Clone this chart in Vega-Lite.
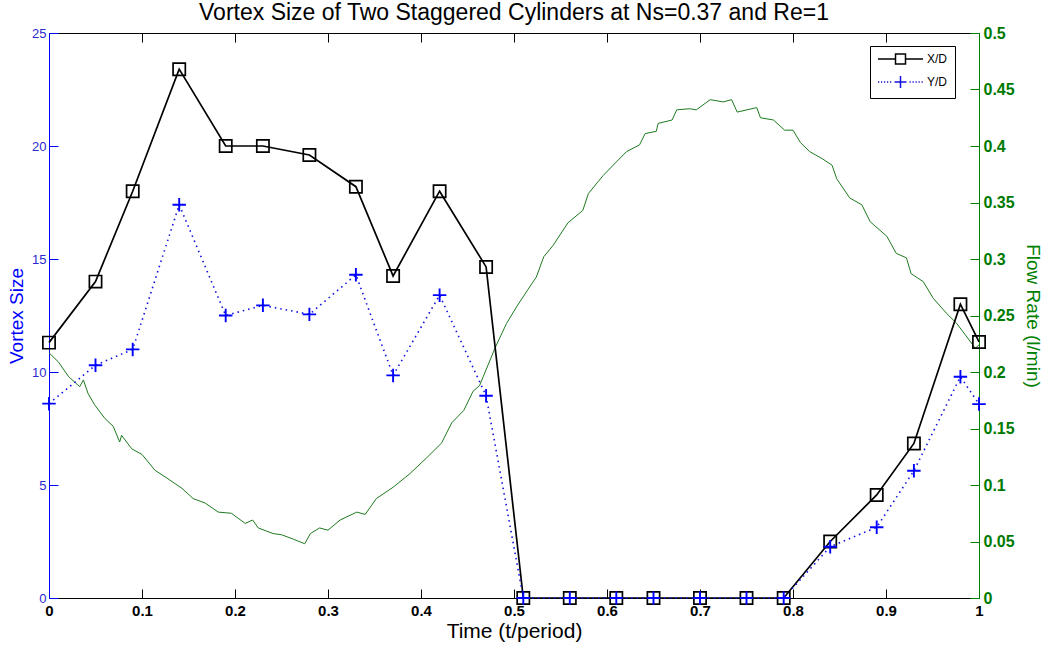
{
  "$schema": "https://vega.github.io/schema/vega-lite/v6.json",
  "width": 930,
  "height": 565,
  "autosize": "none",
  "padding": {"left": 49, "top": 33, "right": 71, "bottom": 52},
  "config": {"view": {"stroke": null}, "font": "Liberation Sans", "axis": {"grid": false}},
  "title": {"text": "Vortex Size of Two Staggered Cylinders at Ns=0.37 and Re=1", "fontSize": 23, "fontWeight": "normal", "color": "black", "offset": 0, "anchor": "middle"},
  "datasets": {
    "vortex": [
      {"t": 0, "series": "X/D", "value": 11.3}, {"t": 0.05, "series": "X/D", "value": 14.0}, {"t": 0.09, "series": "X/D", "value": 18.0}, {"t": 0.14, "series": "X/D", "value": 23.4}, {"t": 0.19, "series": "X/D", "value": 20.0}, {"t": 0.23, "series": "X/D", "value": 20.0}, {"t": 0.28, "series": "X/D", "value": 19.6}, {"t": 0.33, "series": "X/D", "value": 18.2}, {"t": 0.37, "series": "X/D", "value": 14.25}, {"t": 0.42, "series": "X/D", "value": 18.0}, {"t": 0.47, "series": "X/D", "value": 14.65}, {"t": 0.51, "series": "X/D", "value": 0}, {"t": 0.56, "series": "X/D", "value": 0}, {"t": 0.61, "series": "X/D", "value": 0}, {"t": 0.65, "series": "X/D", "value": 0}, {"t": 0.70, "series": "X/D", "value": 0}, {"t": 0.75, "series": "X/D", "value": 0}, {"t": 0.79, "series": "X/D", "value": 0}, {"t": 0.84, "series": "X/D", "value": 2.5}, {"t": 0.89, "series": "X/D", "value": 4.56}, {"t": 0.93, "series": "X/D", "value": 6.84}, {"t": 0.98, "series": "X/D", "value": 13.0}, {"t": 1.0, "series": "X/D", "value": 11.33},
      {"t": 0, "series": "Y/D", "value": 8.6}, {"t": 0.05, "series": "Y/D", "value": 10.3}, {"t": 0.09, "series": "Y/D", "value": 11.0}, {"t": 0.14, "series": "Y/D", "value": 17.4}, {"t": 0.19, "series": "Y/D", "value": 12.5}, {"t": 0.23, "series": "Y/D", "value": 12.95}, {"t": 0.28, "series": "Y/D", "value": 12.55}, {"t": 0.33, "series": "Y/D", "value": 14.3}, {"t": 0.37, "series": "Y/D", "value": 9.85}, {"t": 0.42, "series": "Y/D", "value": 13.4}, {"t": 0.47, "series": "Y/D", "value": 8.95}, {"t": 0.51, "series": "Y/D", "value": 0}, {"t": 0.56, "series": "Y/D", "value": 0}, {"t": 0.61, "series": "Y/D", "value": 0}, {"t": 0.65, "series": "Y/D", "value": 0}, {"t": 0.70, "series": "Y/D", "value": 0}, {"t": 0.75, "series": "Y/D", "value": 0}, {"t": 0.79, "series": "Y/D", "value": 0}, {"t": 0.84, "series": "Y/D", "value": 2.27}, {"t": 0.89, "series": "Y/D", "value": 3.13}, {"t": 0.93, "series": "Y/D", "value": 5.63}, {"t": 0.98, "series": "Y/D", "value": 9.79}, {"t": 1.0, "series": "Y/D", "value": 8.58}
    ],
    "flow": [
      {"t": 0.000, "q": 0.217}, {"t": 0.010, "q": 0.209}, {"t": 0.021, "q": 0.196}, {"t": 0.033, "q": 0.187}, {"t": 0.037, "q": 0.193}, {"t": 0.042, "q": 0.181}, {"t": 0.049, "q": 0.171}, {"t": 0.060, "q": 0.159}, {"t": 0.069, "q": 0.152}, {"t": 0.076, "q": 0.138}, {"t": 0.078, "q": 0.144}, {"t": 0.089, "q": 0.132}, {"t": 0.100, "q": 0.127}, {"t": 0.114, "q": 0.113}, {"t": 0.127, "q": 0.106}, {"t": 0.143, "q": 0.097}, {"t": 0.155, "q": 0.088}, {"t": 0.168, "q": 0.084}, {"t": 0.182, "q": 0.076}, {"t": 0.196, "q": 0.075}, {"t": 0.211, "q": 0.066}, {"t": 0.219, "q": 0.069}, {"t": 0.225, "q": 0.062}, {"t": 0.241, "q": 0.057}, {"t": 0.250, "q": 0.056}, {"t": 0.263, "q": 0.052}, {"t": 0.275, "q": 0.048}, {"t": 0.281, "q": 0.057}, {"t": 0.291, "q": 0.062}, {"t": 0.300, "q": 0.060}, {"t": 0.313, "q": 0.069}, {"t": 0.331, "q": 0.076}, {"t": 0.340, "q": 0.074}, {"t": 0.352, "q": 0.088}, {"t": 0.370, "q": 0.098}, {"t": 0.388, "q": 0.110}, {"t": 0.406, "q": 0.124}, {"t": 0.422, "q": 0.137}, {"t": 0.433, "q": 0.155}, {"t": 0.446, "q": 0.166}, {"t": 0.456, "q": 0.183}, {"t": 0.463, "q": 0.188}, {"t": 0.467, "q": 0.196}, {"t": 0.480, "q": 0.222}, {"t": 0.492, "q": 0.243}, {"t": 0.503, "q": 0.258}, {"t": 0.515, "q": 0.273}, {"t": 0.524, "q": 0.284}, {"t": 0.532, "q": 0.302}, {"t": 0.542, "q": 0.312}, {"t": 0.558, "q": 0.332}, {"t": 0.574, "q": 0.343}, {"t": 0.580, "q": 0.358}, {"t": 0.596, "q": 0.374}, {"t": 0.609, "q": 0.385}, {"t": 0.621, "q": 0.395}, {"t": 0.635, "q": 0.401}, {"t": 0.641, "q": 0.411}, {"t": 0.653, "q": 0.413}, {"t": 0.655, "q": 0.420}, {"t": 0.670, "q": 0.423}, {"t": 0.675, "q": 0.432}, {"t": 0.689, "q": 0.433}, {"t": 0.696, "q": 0.432}, {"t": 0.711, "q": 0.441}, {"t": 0.725, "q": 0.439}, {"t": 0.734, "q": 0.441}, {"t": 0.740, "q": 0.430}, {"t": 0.761, "q": 0.434}, {"t": 0.765, "q": 0.425}, {"t": 0.779, "q": 0.423}, {"t": 0.791, "q": 0.414}, {"t": 0.800, "q": 0.414}, {"t": 0.808, "q": 0.403}, {"t": 0.818, "q": 0.395}, {"t": 0.831, "q": 0.389}, {"t": 0.842, "q": 0.383}, {"t": 0.847, "q": 0.371}, {"t": 0.861, "q": 0.354}, {"t": 0.874, "q": 0.348}, {"t": 0.883, "q": 0.333}, {"t": 0.901, "q": 0.320}, {"t": 0.911, "q": 0.305}, {"t": 0.922, "q": 0.301}, {"t": 0.927, "q": 0.287}, {"t": 0.940, "q": 0.280}, {"t": 0.951, "q": 0.265}, {"t": 0.965, "q": 0.252}, {"t": 0.976, "q": 0.243}, {"t": 0.987, "q": 0.231}, {"t": 0.996, "q": 0.221}, {"t": 1.000, "q": 0.224}
    ]
  },
  "layer": [
    {
      "data": {"name": "flow"},
      "mark": {"type": "line", "color": "#1e7a1e", "strokeWidth": 1},
      "encoding": {
        "x": {"field": "t", "type": "quantitative", "scale": {"domain": [0, 1], "nice": false},
          "axis": {"orient": "top", "values": [0, 0.1, 0.2, 0.3, 0.4, 0.5, 0.6, 0.7, 0.8, 0.9, 1], "labels": false, "title": null, "tickSize": -9, "tickColor": "black", "domainColor": "black"}},
        "y": {"field": "q", "type": "quantitative", "scale": {"domain": [0, 0.5], "nice": false},
          "axis": {"orient": "right", "values": [0, 0.05, 0.1, 0.15, 0.2, 0.25, 0.3, 0.35, 0.4, 0.45, 0.5], "format": "~g", "tickSize": -9, "tickColor": "#008000", "domainColor": "#008000", "labelColor": "#007a00", "labelFontWeight": "bold", "labelFontSize": 16, "labelPadding": 13, "labelOverlap": false, "title": "Flow Rate (l/min)", "titleColor": "#008000", "titleFontSize": 19, "titleFontWeight": "normal", "titlePadding": 8}}
      }
    },
    {
      "data": {"name": "vortex"},
      "encoding": {
        "x": {"field": "t", "type": "quantitative", "scale": {"domain": [0, 1], "nice": false},
          "axis": {"orient": "bottom", "values": [0, 0.1, 0.2, 0.3, 0.4, 0.5, 0.6, 0.7, 0.8, 0.9, 1], "format": "~g", "labelFlush": false, "labelOverlap": false, "tickSize": -9, "tickColor": "black", "domainColor": "black", "labelColor": "black", "labelFontWeight": "bold", "labelFontSize": 15, "labelPadding": 14, "title": "Time (t/period)", "titleColor": "black", "titleFontSize": 21, "titleFontWeight": "normal", "titlePadding": 2}},
        "y": {"field": "value", "type": "quantitative", "scale": {"domain": [0, 25], "nice": false},
          "axis": {"orient": "left", "values": [0, 5, 10, 15, 20, 25], "tickSize": -9, "tickColor": "#0000ff", "domainColor": "#0000ff", "labelColor": "#2a2ad0", "labelFontSize": 13, "labelPadding": 12, "labelOverlap": false, "title": "Vortex Size", "titleColor": "#0000ff", "titleFontSize": 19, "titleFontWeight": "normal", "titlePadding": 5}}
      },
      "layer": [
        {
          "transform": [{"filter": "datum.series === 'X/D'"}],
          "mark": {"type": "line", "strokeWidth": 1.7},
          "encoding": {
            "color": {"field": "series", "type": "nominal", "scale": {"domain": ["X/D", "Y/D"], "range": ["black", "#1010e0"]},
              "legend": {"title": null, "orient": "none", "legendX": 821, "legendY": 13, "strokeColor": "black", "fillColor": "white", "padding": 7, "rowPadding": 6, "symbolSize": 100, "labelOffset": 38, "labelFontSize": 12, "labelColor": "black", "symbolStrokeWidth": 1.5,
                "symbolType": {"expr": "datum.value === 'X/D' ? 'M-1,0H2.5M4.5,0H8M2.5,-1H4.5V1H2.5Z' : 'M-1,0h0.25M-0.4,0h0.25M0.2,0h0.25M0.8,0h0.25M1.4,0h0.25M5.3,0h0.25M5.9,0h0.25M6.5,0h0.25M7.1,0h0.25M7.7,0h0.25M2.3,0H4.7M3.5,-1.2V1.2'"}}}
          }
        },
        {
          "transform": [{"filter": "datum.series === 'Y/D'"}],
          "mark": {"type": "line", "strokeWidth": 1.6, "strokeDash": [1.5, 4]},
          "encoding": {"color": {"field": "series", "type": "nominal"}}
        },
        {
          "transform": [{"filter": "datum.series === 'X/D'"}],
          "mark": {"type": "point", "shape": "square", "filled": false, "size": 150, "strokeWidth": 1.7, "color": "black", "opacity": 1}
        },
        {
          "transform": [{"filter": "datum.series === 'Y/D'"}],
          "mark": {"type": "point", "shape": "M-1.1,0H1.1M0,-1.1V1.1", "filled": false, "size": 150, "strokeWidth": 1.9, "color": "#0000ff", "opacity": 1}
        }
      ]
    }
  ],
  "resolve": {"scale": {"y": "independent"}, "axis": {"x": "independent"}}
}
